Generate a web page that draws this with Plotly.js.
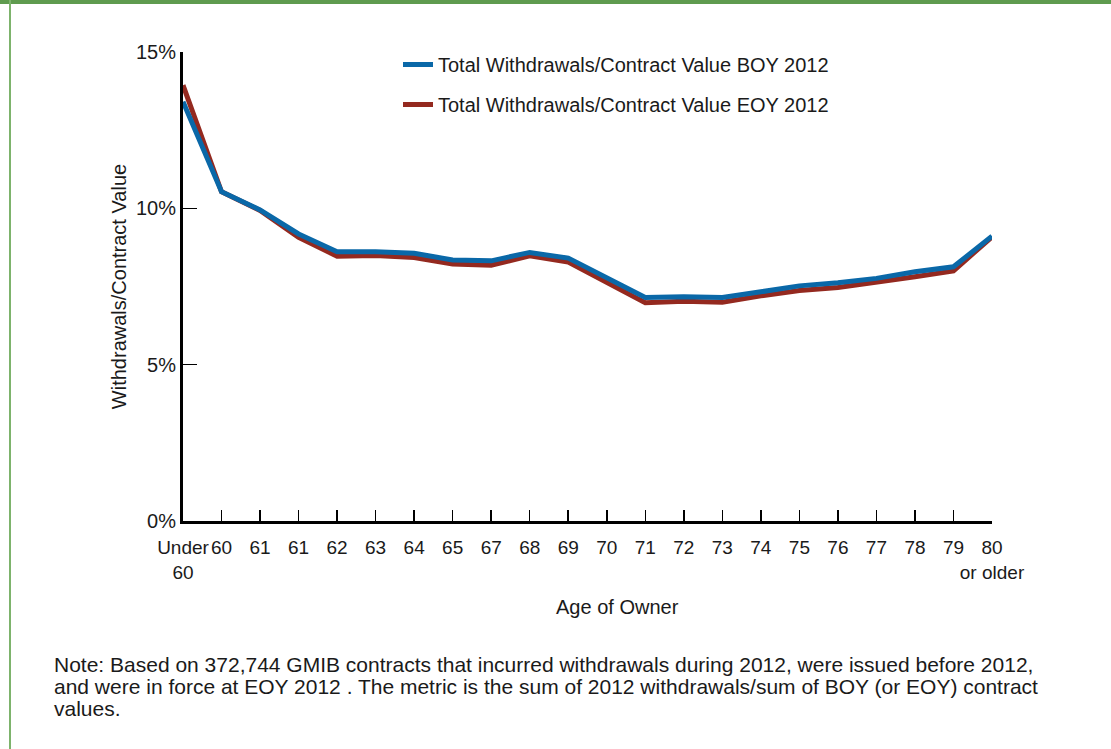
<!DOCTYPE html>
<html>
<head>
<meta charset="utf-8">
<script src="https://cdn.plot.ly/plotly-3.0.1.min.js"></script>
<style>
  html, body { margin: 0; padding: 0; background: #ffffff; }
  #wrap { position: relative; width: 1111px; height: 749px; overflow: hidden; }
  #chart { position: absolute; left: 0; top: 0; width: 1111px; height: 749px; }
  #topbar { position: absolute; left: 0; top: 0; width: 1111px; height: 4px; background: #5f9b4f; z-index: 5; }
  #leftbar { position: absolute; left: 9px; top: 0; width: 2px; height: 749px; background: #7db36c; z-index: 5; }
</style>
</head>
<body>
<div id="wrap">
  <div id="chart"></div>
  <div id="topbar"></div>
  <div id="leftbar"></div>
</div>
<script>
// Category tick labels (note the repeated "61" in the source)
const ageLabels = ["Under<br>60", "60", "61", "61", "62", "63", "64", "65", "67", "68", "69",
                   "70", "71", "72", "73", "74", "75", "76", "77", "78", "79", "80<br>or older"];

// Withdrawals / contract value, in percent
const boy2012 = [13.41, 10.53, 9.95, 9.18, 8.61, 8.61, 8.56, 8.35, 8.32, 8.59, 8.41,
                 7.77, 7.15, 7.17, 7.15, 7.33, 7.52, 7.62, 7.76, 7.97, 8.13, 9.11];
const eoy2012 = [13.94, 10.53, 9.93, 9.07, 8.47, 8.49, 8.43, 8.22, 8.18, 8.48, 8.28,
                 7.65, 6.98, 7.03, 7.00, 7.20, 7.37, 7.47, 7.62, 7.81, 8.00, 9.09];

const seriesNames = ["Total Withdrawals/Contract Value BOY 2012",
                     "Total Withdrawals/Contract Value EOY 2012"];

const yTickVals = [0, 5, 10, 15];
const yTickText = ["0%", "5%", "10%", "15%"];

const noteLines = [
  "Note: Based on 372,744 GMIB contracts that incurred withdrawals during 2012, were issued before 2012,",
  "and were in force at EOY 2012 . The metric is the sum of 2012 withdrawals/sum of BOY (or EOY) contract",
  "values."
];

const xIdx = ageLabels.map((_, i) => i);
const FONT = "'Liberation Sans Narrow', 'Liberation Sans', Arial, sans-serif";
const TXT = "#1a1a1a";

const traces = [
  {
    x: xIdx, y: boy2012, name: seriesNames[0], type: "scatter", mode: "lines",
    line: { color: "#0a68a8", width: 5 }, legendgroup: "a", legendrank: 1, hoverinfo: "skip"
  },
  {
    x: xIdx, y: eoy2012, name: seriesNames[1], type: "scatter", mode: "lines",
    line: { color: "#94291f", width: 5 }, legendgroup: "b", legendrank: 2, hoverinfo: "skip"
  }
];
// draw the EOY line beneath the BOY line, as in the source
const drawOrder = [traces[1], traces[0]];

// plot-area helpers: convert source pixel positions to paper fractions
const PL = 183, PR = 992, PT = 52, PB = 521;
const px = v => (v - PL) / (PR - PL);
const py = v => (PB - v) / (PB - PT);

const annotations = [
  {
    text: "Age of Owner", xref: "paper", yref: "paper",
    x: px(617), y: py(607), xanchor: "center", yanchor: "middle",
    showarrow: false, font: { family: FONT, size: 20, color: TXT }
  }
];
const noteY = [664, 686, 708];
noteLines.forEach((t, i) => {
  annotations.push({
    text: t, xref: "paper", yref: "paper",
    x: px(52), y: py(noteY[i]), xanchor: "left", yanchor: "middle", align: "left",
    showarrow: false, font: { family: FONT, size: 21, color: TXT }
  });
});

const layout = {
  width: 1111, height: 749,
  paper_bgcolor: "#ffffff", plot_bgcolor: "#ffffff",
  margin: { l: PL, r: 1111 - PR, t: PT, b: 749 - PB },
  font: { family: FONT, size: 20, color: TXT },
  showlegend: true,
  legend: {
    x: px(398), y: py(45), xanchor: "left", yanchor: "top",
    bgcolor: "rgba(0,0,0,0)", borderwidth: 0,
    font: { family: FONT, size: 20, color: TXT },
    tracegroupgap: 11, traceorder: "grouped"
  },
  xaxis: {
    range: [0, 21], tickmode: "array", tickvals: xIdx, ticktext: ageLabels, tickangle: 0,
    showgrid: false, zeroline: false, showline: true, linecolor: "#000", linewidth: 3,
    ticks: "inside", ticklen: 11, tickwidth: 1.5, tickcolor: "#000", ticklabelstandoff: 7,
    tickfont: { family: FONT, size: 19, color: TXT }, fixedrange: true
  },
  yaxis: {
    range: [0, 15], tickmode: "array", tickvals: yTickVals, ticktext: yTickText,
    showgrid: false, zeroline: false, showline: true, linecolor: "#000", linewidth: 3,
    ticks: "inside", ticklen: 14, tickwidth: 1.5, tickcolor: "#000",
    tickfont: { family: FONT, size: 20, color: TXT },
    title: { text: "Withdrawals/Contract Value", font: { family: FONT, size: 20, color: TXT }, standoff: 4 },
    fixedrange: true
  },
  annotations: annotations
};

Plotly.newPlot("chart", drawOrder, layout, { staticPlot: true, displayModeBar: false });
</script>
</body>
</html>
